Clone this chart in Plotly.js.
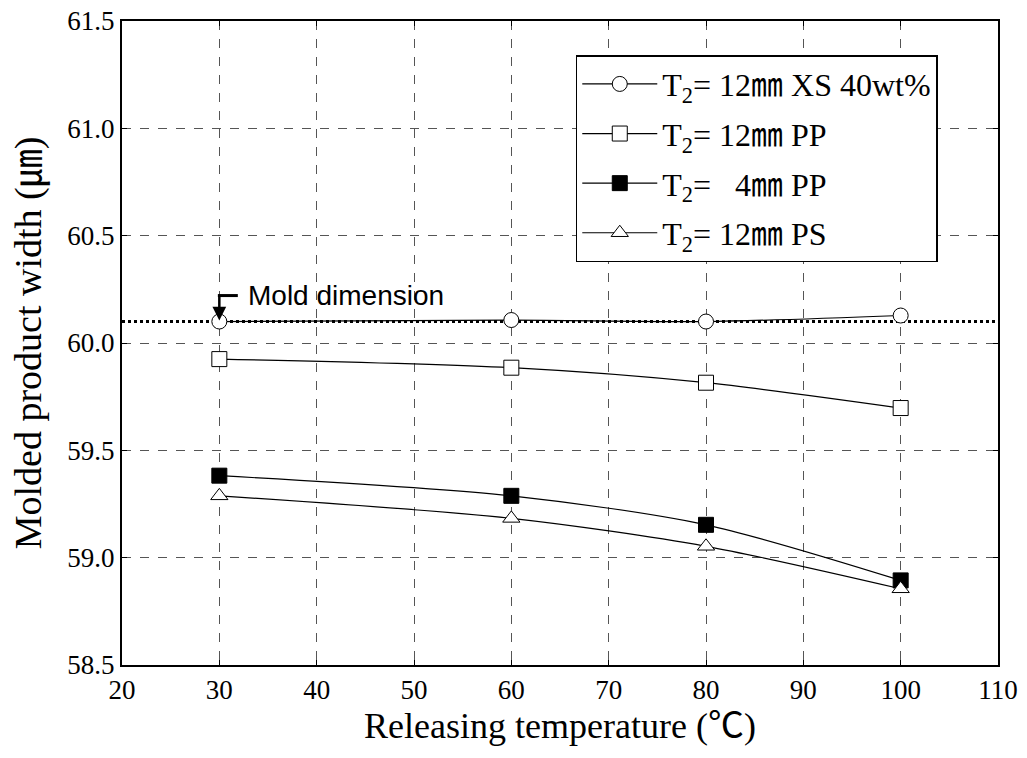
<!DOCTYPE html>
<html><head><meta charset="utf-8">
<script src="https://cdn.plot.ly/plotly-3.0.1.min.js"></script>
<style>html,body{margin:0;padding:0;background:#fff;}#chart{width:1027px;height:758px;}</style>
</head><body><div id="chart"></div>
<script>
const temps = [30, 60, 80, 100];
const xs12 = [60.10, 60.107, 60.10, 60.128];
const pp12 = [59.925, 59.885, 59.815, 59.697];
const pp4 = [59.382, 59.288, 59.153, 58.894];
const ps12 = [59.288, 59.183, 59.053, 58.855];
const moldDimension = 60.10;
const seriesNames = ['T<sub>2</sub>= 12㎜ XS 40wt%', 'T<sub>2</sub>= 12㎜ PP', 'T<sub>2</sub>=   4㎜ PP', 'T<sub>2</sub>= 12㎜ PS'];
const annotationText = 'Mold dimension';

const serif = "'Liberation Serif', 'Times New Roman', 'Noto Sans CJK KR', serif";

function tr(y, name, symbol, fill, grp) {
  return {x: temps, y: y, name: name, legendgroup: grp, type: 'scatter', mode: 'lines+markers',
    line: {color: '#000', width: 1.2, shape: 'spline', smoothing: 0.8},
    marker: {symbol: symbol, size: 15, color: fill, line: {color: '#000', width: 1}}};
}
const data = [
  tr(xs12, seriesNames[0], 'circle', '#fff', 'a'),
  tr(pp12, seriesNames[1], 'square', '#fff', 'b'),
  tr(pp4, seriesNames[2], 'square', '#000', 'c'),
  tr(ps12, seriesNames[3], 'triangle-up', '#fff', 'd')
];

function axis(extra) {
  return Object.assign({showline: true, linecolor: '#000', linewidth: 2, mirror: 'ticks', ticks: 'inside', ticklen: 5, tickcolor: '#000',
    showgrid: true, gridcolor: '#555', griddash: 'dash', gridwidth: 1, zeroline: false,
    tickfont: {family: serif, size: 27, color: '#000'}}, extra);
}

const layout = {
  width: 1027, height: 758,
  font: {family: serif, size: 27, color: '#000'},
  margin: {l: 122, r: 29, t: 21, b: 93},
  paper_bgcolor: '#fff', plot_bgcolor: '#fff',
  xaxis: axis({range: [20, 110], dtick: 10, tick0: 20,
    title: {text: 'Releasing temperature (℃)', font: {family: serif, size: 36, color: '#000'}, standoff: 8}}),
  yaxis: axis({range: [58.5, 61.5], dtick: 0.5, tick0: 58.5, tickformat: '.1f',
    title: {text: 'Molded product width (㎛)', font: {family: serif, size: 38, color: '#000'}, standoff: 14}}),
  legend: {x: 0.518, y: 0.947, xanchor: 'left', yanchor: 'top', bgcolor: '#fff', bordercolor: '#000', borderwidth: 1.5,
    font: {family: serif, size: 32, color: '#000'}, itemwidth: 75, tracegroupgap: 5, traceorder: 'grouped'},
  shapes: [
    {type: 'line', xref: 'paper', x0: 0, x1: 1, yref: 'y', y0: moldDimension, y1: moldDimension,
     line: {color: '#000', width: 3, dash: 'dot'}, layer: 'below'},
    {type: 'line', xref: 'x', yref: 'y', x0: 29.85, x1: 31.9, y0: moldDimension + 0.121, y1: moldDimension + 0.121,
     line: {color: '#000', width: 3}}
  ],
  annotations: [
    {x: 30, y: moldDimension + 0.005, xref: 'x', yref: 'y', ax: 0, ay: -27, text: '', showarrow: true,
     arrowhead: 2, arrowsize: 1.1, arrowwidth: 2.5, arrowcolor: '#000'},
    {x: 32.7, y: moldDimension + 0.121, xref: 'x', yref: 'y', xanchor: 'left', yanchor: 'middle', showarrow: false,
     text: annotationText, font: {family: "'Liberation Sans', Arial, sans-serif", size: 28, color: '#000'}}
  ]
};
Plotly.newPlot('chart', data, layout, {displayModeBar: false, staticPlot: true});
</script></body></html>
